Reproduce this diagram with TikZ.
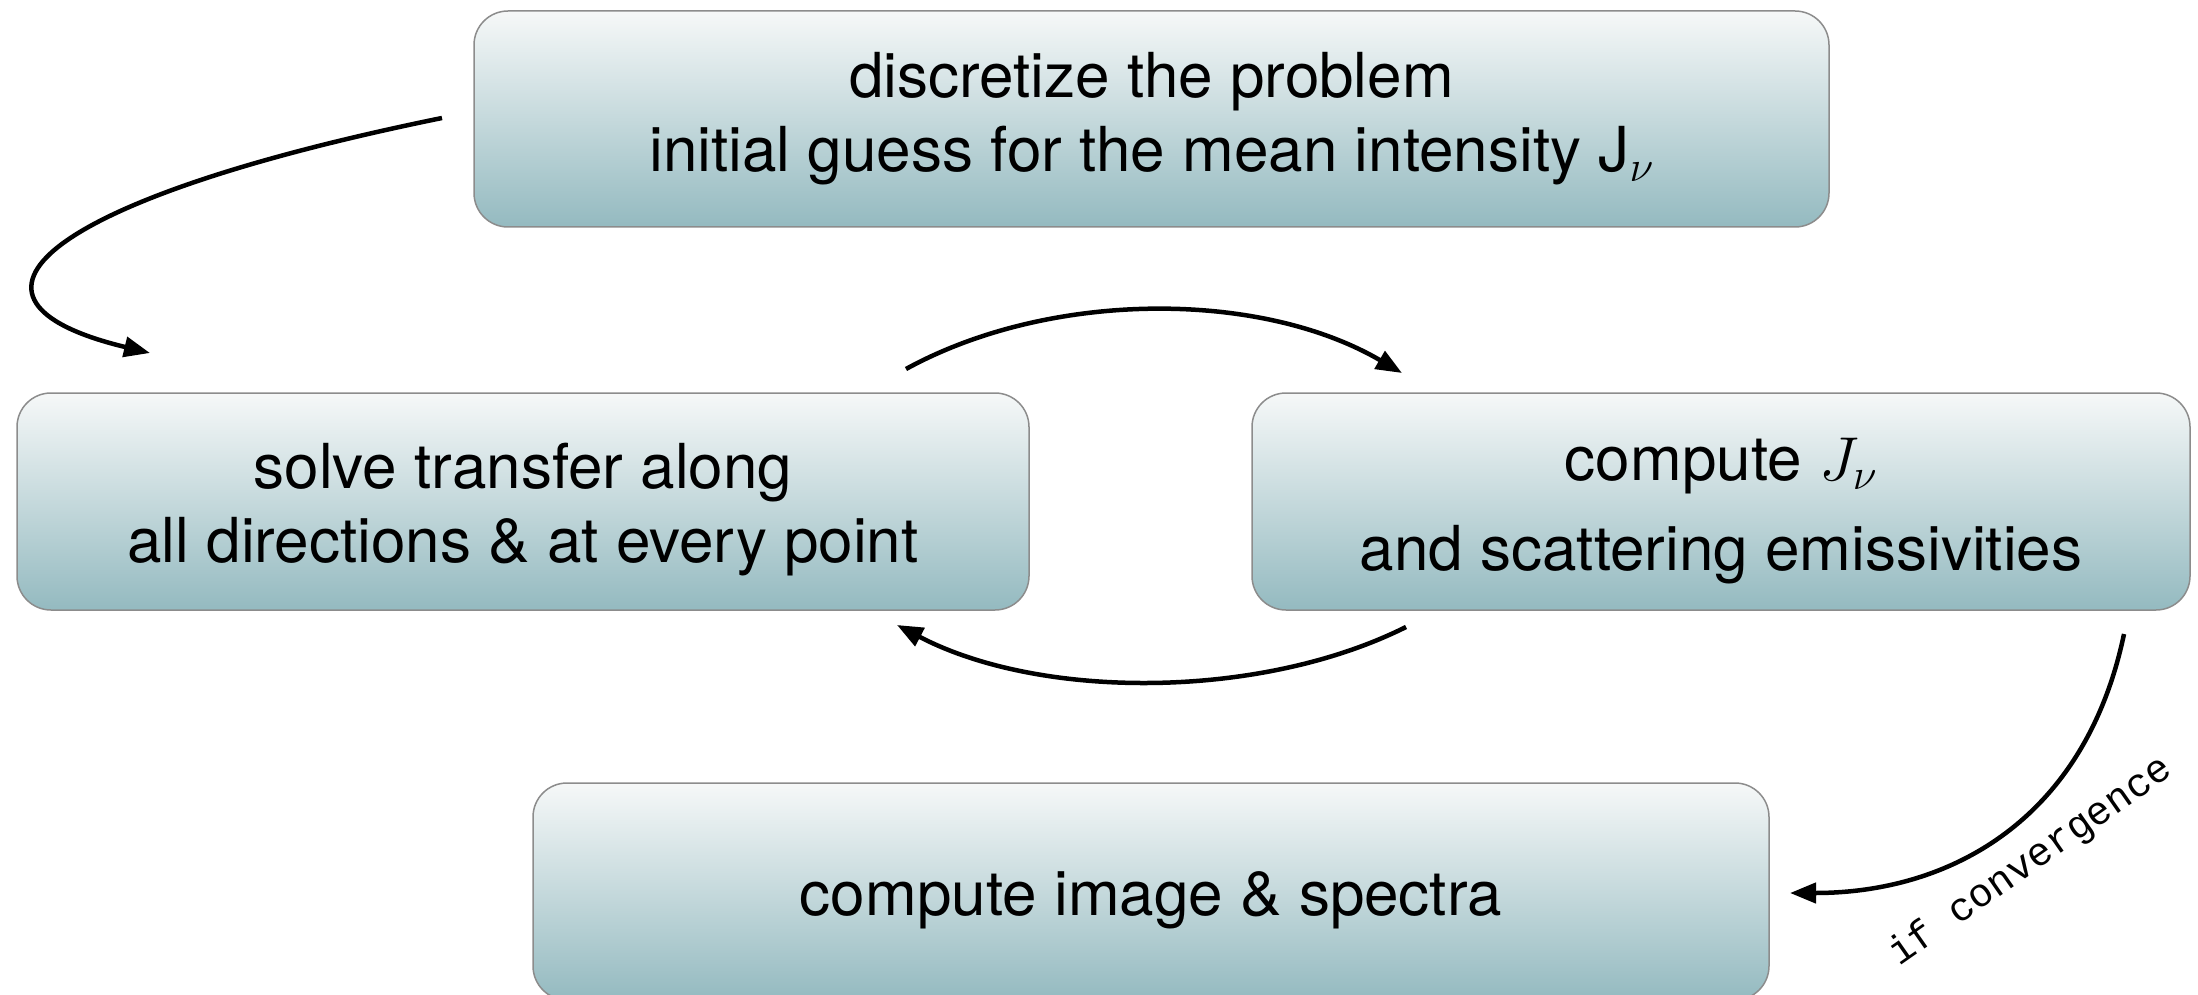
\RequirePackage{fix-cm}
\documentclass[tikz,border=0pt]{standalone}
\usepackage{fontspec}
\setmainfont{TeX Gyre Heros}
\newfontfamily\labelmono{Liberation Mono}
\usetikzlibrary{arrows.meta,calc}
\definecolor{boxtop}{RGB}{246,248,248}
\definecolor{boxbot}{RGB}{148,186,192}
\definecolor{boxline}{RGB}{140,140,140}
\begin{document}
\begin{tikzpicture}[x=1pt,y=-1pt,
  stepbox/.style={draw=boxline, line width=1.5pt, rounded corners=34pt,
    top color=boxtop, bottom color=boxbot, inner sep=0pt},
  boxtext/.style={font=\fontsize{62}{74}\selectfont, inner sep=0pt, anchor=base},
  flow/.style={line width=4.5pt, -{Triangle[length=26pt,width=20pt]}},
  condlabel/.style={font=\labelmono\fontsize{40}{44}\selectfont, inner sep=0pt}]
\useasboundingbox (0,0) rectangle (2198,995);
\clip (0,0) rectangle (2198,995);
% boxes
\node[stepbox, minimum width=1355pt, minimum height=216pt] (top) at (1151.5,119) {};
\node[stepbox, minimum width=1012pt, minimum height=217pt] (solve) at (523,501.5) {};
\node[stepbox, minimum width=938pt, minimum height=217pt] (comp) at (1721,501.5) {};
\node[stepbox, minimum width=1236pt, minimum height=217pt] (img) at (1151,891.5) {};
% texts
\node[boxtext] (top1) at (1151.5,98) {discretize the problem};
\node[boxtext] (top2) at (1151.5,172) {initial guess for the mean intensity J$_\nu$};
\node[boxtext] (solve1) at (523,488) {solve transfer along};
\node[boxtext] (solve2) at (523,562) {all directions \& at every point};
\node[boxtext] (comp1) at (1721,480) {compute $J_\nu$};
\node[boxtext] (comp2) at (1721,570) {and scattering emissivities};
\node[boxtext] (img1) at (1151,915) {compute image \& spectra};
% connector end points
\coordinate (a1s) at (442,118);
\coordinate (a1e) at (150,353);
\coordinate (a2s) at (906,369);
\coordinate (a2e) at (1402,373);
\coordinate (a3s) at (1406,627);
\coordinate (a3e) at (897,625);
\coordinate (a4s) at (2124,634);
\coordinate (a4e) at (1790,893);
\draw[flow] (a1s) .. controls (40,200) and (-70,300) .. (a1e);
\draw[flow] (a2s) .. controls (1050,290) and (1260,290) .. (a2e);
\draw[flow] (a3s) .. controls (1260,700) and (1040,700) .. (a3e);
\draw[flow] (a4s) .. controls (2085,820) and (1950,893) .. (a4e);
\node[condlabel, rotate=35] (cond) at (2031,862) {if convergence};
\end{tikzpicture}
\end{document}
